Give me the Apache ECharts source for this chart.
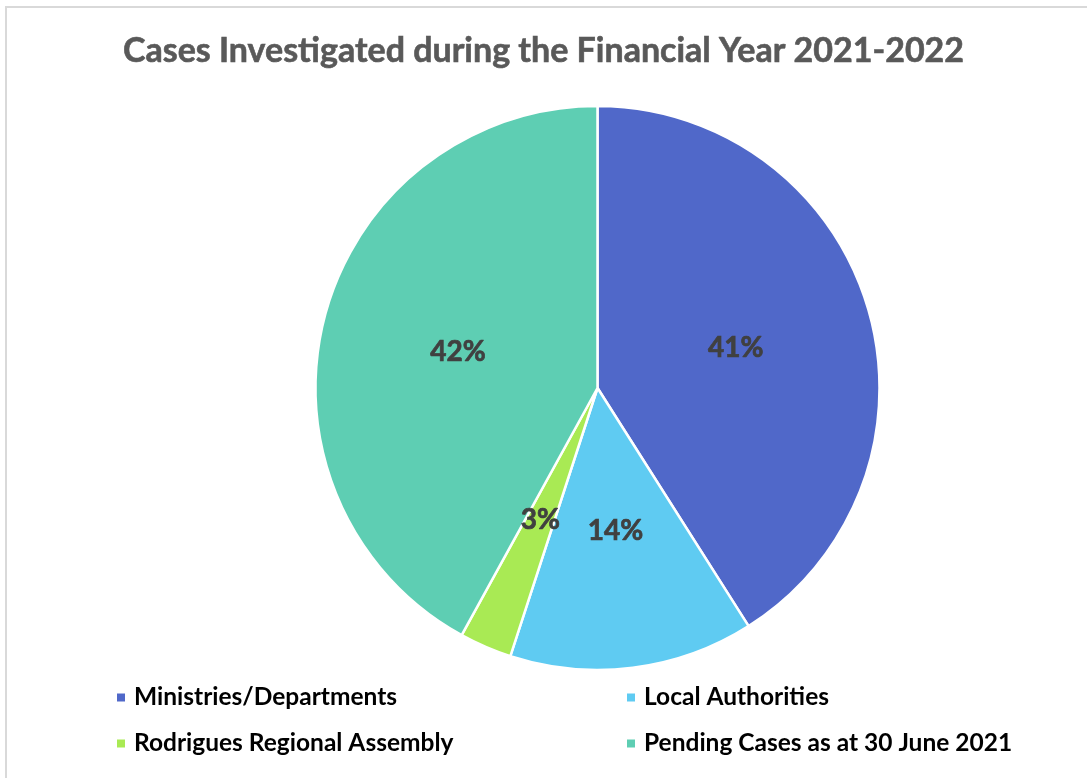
<!DOCTYPE html>
<html>
<head>
<meta charset="utf-8">
<script src="https://cdn.jsdelivr.net/npm/echarts@6/dist/echarts.min.js"></script>
<style>
  html, body { margin: 0; padding: 0; background: #ffffff; }
  #chart { width: 1087px; height: 778px; }
</style>
</head>
<body>
<div id="chart"></div>
<script>
// Share of cases investigated, by source (percent)
const categories = [
  'Ministries/Departments',
  'Local Authorities',
  'Rodrigues Regional Assembly',
  'Pending Cases as at 30 June 2021'
];
const shares = [41, 14, 3, 42];
const colors = ['#5068C9', '#5FCBF2', '#A9EA54', '#5ECEB3'];

const chart = echarts.init(document.getElementById('chart'), null, { renderer: 'canvas' });

const pieData = categories.map((name, i) => ({
  name: name,
  value: shares[i],
  itemStyle: { color: colors[i] }
}));

const legendText = {
  fontFamily: 'Lato',
  fontWeight: 'bold',
  fontSize: 24.5,
  lineHeight: 24,
  color: '#000000',
  padding: [0, 0, 0, 3]
};

chart.setOption({
  backgroundColor: '#ffffff',
  animation: false,
  title: {
    text: 'Cases Investigated during the Financial Year 2021-2022',
    left: 'center',
    top: 29,
    textStyle: {
      fontFamily: 'Lato',
      fontWeight: 'bold',
      fontSize: 34,
      color: '#595959',
      textBorderColor: '#595959',
      textBorderWidth: 0.6
    }
  },
  graphic: [{
    type: 'polyline',
    shape: { points: [[6, 790], [6, 7], [1100, 7]] },
    style: { stroke: '#d9d9d9', lineWidth: 2, fill: null },
    silent: true
  }],
  legend: [
    {
      orient: 'vertical',
      left: 115,
      top: 685,
      padding: 0,
      itemWidth: 10,
      itemHeight: 10,
      itemGap: 21,
      icon: 'rect',
      data: [categories[0], categories[2]],
      textStyle: legendText
    },
    {
      orient: 'vertical',
      left: 625,
      top: 685,
      padding: 0,
      itemWidth: 10,
      itemHeight: 10,
      itemGap: 21,
      icon: 'rect',
      data: [categories[1], categories[3]],
      textStyle: legendText
    }
  ],
  series: [{
    type: 'pie',
    center: [597.5, 388],
    radius: [0, 282],
    startAngle: 90,
    clockwise: true,
    avoidLabelOverlap: false,
    itemStyle: { borderColor: '#ffffff', borderWidth: 2.5 },
    label: {
      show: true,
      position: 'inside',
      formatter: p => p.value + '%',
      fontFamily: 'Lato',
      fontWeight: 'bold',
      fontSize: 28,
      color: '#404040',
      textBorderColor: '#404040',
      textBorderWidth: 0.7
    },
    labelLine: { show: false },
    emphasis: { disabled: true },
    data: pieData
  }]
});
</script>
</body>
</html>
